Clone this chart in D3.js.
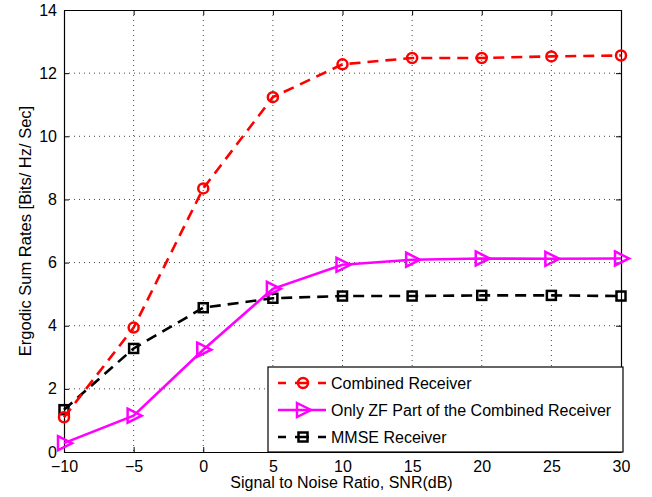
<!DOCTYPE html>
<html><head><meta charset="utf-8">
<script src="https://cdn.jsdelivr.net/npm/d3@7"></script>
<style>body{margin:0;background:#fff}svg{display:block}text{font-family:"Liberation Sans",Arial,sans-serif}</style>
</head><body><div id="c"></div>
<script>
const snr = [-10,-5,0,5,10,15,20,25,30];
const combined = [1.10,3.94,8.35,11.24,12.28,12.48,12.48,12.53,12.56];
const zfPart = [0.28,1.15,3.24,5.17,5.93,6.09,6.13,6.12,6.13];
const mmse = [1.34,3.28,4.57,4.87,4.94,4.94,4.96,4.96,4.94];
const xTicks = [-10,-5,0,5,10,15,20,25,30];
const yTicks = [0,2,4,6,8,10,12,14];
const seriesNames = ["Combined Receiver","Only ZF Part of the Combined Receiver","MMSE Receiver"];

const W=652,H=497, L=64,R=621,T=10,B=452;
const svg=d3.select("#c").append("svg").attr("width",W).attr("height",H);
const x=d3.scaleLinear().domain([-10,30]).range([L,R]);
const y=d3.scaleLinear().domain([0,14]).range([B,T]);

// grid
const g=svg.append("g");
g.selectAll("line.vg").data(xTicks.slice(1,-1)).join("line")
 .attr("x1",d=>x(d)).attr("x2",d=>x(d)).attr("y1",T).attr("y2",B)
 .attr("stroke","#444").attr("stroke-width",1).attr("stroke-dasharray","1,4");
g.selectAll("line.hg").data(yTicks.slice(1,-1)).join("line")
 .attr("y1",d=>y(d)).attr("y2",d=>y(d)).attr("x1",L).attr("x2",R)
 .attr("stroke","#444").attr("stroke-width",1).attr("stroke-dasharray","1,4");

// axes
const ax=d3.axisBottom(x).tickValues(xTicks).tickSizeInner(-5).tickSizeOuter(0).tickPadding(9).tickFormat(d=>d<0?"\u2212"+Math.abs(d):d);
const ay=d3.axisLeft(y).tickValues(yTicks).tickSizeInner(-5).tickSizeOuter(0).tickPadding(7);
const axT=d3.axisTop(x).tickValues(xTicks).tickSizeInner(-5).tickSizeOuter(0).tickFormat("");
const ayR=d3.axisRight(y).tickValues(yTicks).tickSizeInner(-5).tickSizeOuter(0).tickFormat("");
function style(sel){sel.selectAll("path.domain").attr("stroke","#000").attr("stroke-width",1.2);sel.selectAll("line").attr("stroke","#000");sel.selectAll("text").attr("font-size",16).attr("fill","#000").attr("font-family","'Liberation Sans',Arial,sans-serif");}
svg.append("g").attr("transform",`translate(0,${B})`).call(ax).call(style);
svg.append("g").attr("transform",`translate(${L},0)`).call(ay).call(style);
svg.append("g").attr("transform",`translate(0,${T})`).call(axT).call(style);
svg.append("g").attr("transform",`translate(${R},0)`).call(ayR).call(style);

svg.append("text").attr("x",(L+R)/2-1).attr("y",488).attr("text-anchor","middle").attr("font-size",16).text("Signal to Noise Ratio, SNR(dB)");
svg.append("text").attr("transform",`translate(31,${(T+B)/2}) rotate(-90)`).attr("text-anchor","middle").attr("font-size",16.5).text("Ergodic Sum Rates [Bits/ Hz/ Sec]");

const series=[
 {name:seriesNames[0],vals:combined,color:"#ff0000",dash:"11,7",marker:"circle"},
 {name:seriesNames[1],vals:zfPart,color:"#ff00ff",dash:null,marker:"tri"},
 {name:seriesNames[2],vals:mmse,color:"#000000",dash:"11,7",marker:"square"}
];
const line=d3.line().x(d=>x(d[0])).y(d=>y(d[1]));
function drawMarker(sel,type,color,cx,cy){
  if(type==="circle") sel.append("circle").attr("cx",cx).attr("cy",cy).attr("r",5).attr("fill","none").attr("stroke",color).attr("stroke-width",2.5);
  else if(type==="square") sel.append("rect").attr("x",cx-4.5).attr("y",cy-4.5).attr("width",9).attr("height",9).attr("fill","none").attr("stroke",color).attr("stroke-width",2.5);
  else sel.append("path").attr("d",`M${cx-6},${cy-7}L${cx+8},${cy}L${cx-6},${cy+7}Z`).attr("fill","none").attr("stroke",color).attr("stroke-width",2.5).attr("stroke-linejoin","miter");
}
// draw order: MMSE, combined, ZF
[series[2],series[0],series[1]].forEach(s=>{
  const pts=snr.map((v,i)=>[v,s.vals[i]]);
  const p=svg.append("path").attr("d",line(pts)).attr("fill","none").attr("stroke",s.color).attr("stroke-width",2.6);
  if(s.dash) p.attr("stroke-dasharray",s.dash);
  const mg=svg.append("g");
  pts.forEach(d=>drawMarker(mg,s.marker,s.color,x(d[0]),y(d[1])));
});

// legend
const lg=svg.append("g");
lg.append("rect").attr("x",268).attr("y",367).attr("width",355).attr("height",85).attr("fill","#fff").attr("stroke","#000").attr("stroke-width",1.2);
const rowY=[383,410,437];
series.forEach((s,i)=>{
  const ly=rowY[i];
  const l=lg.append("line").attr("x1",278).attr("x2",326).attr("y1",ly).attr("y2",ly).attr("stroke",s.color).attr("stroke-width",2.6);
  if(s.dash) l.attr("stroke-dasharray","8,9,14,9,8");
  drawMarker(lg,s.marker,s.color,303,ly);
  lg.append("text").attr("x",331).attr("y",ly+6).attr("font-size",16).text(s.name);
});
</script></body></html>
